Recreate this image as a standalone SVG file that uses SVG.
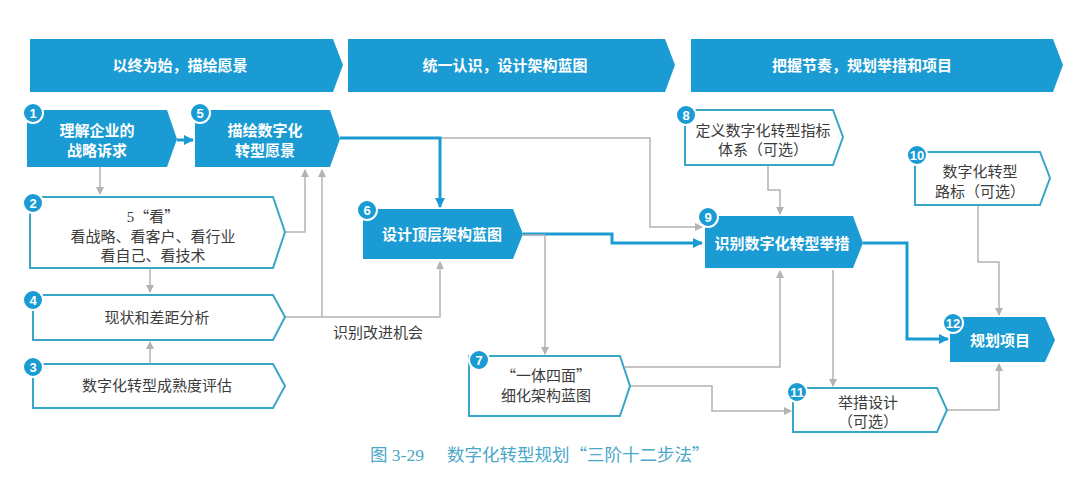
<svg xmlns="http://www.w3.org/2000/svg" width="1080" height="501" viewBox="0 0 1080 501">
<defs>
<style>
.band{fill:#1a9bd3}
.bt{font-family:"Noto Sans CJK SC","Noto Sans",sans-serif;font-size:15px;font-weight:bold;fill:#fff;text-anchor:middle}
.fill{fill:#1a9bd3}
.wt{font-family:"Noto Sans CJK SC","Noto Sans",sans-serif;font-size:15px;font-weight:bold;fill:#fff;text-anchor:middle}
.out{fill:#fff;stroke:#3aa6c7;stroke-width:2}
.gt{font-family:"Noto Sans CJK SC","Noto Sans",sans-serif;font-size:15px;fill:#3c3c3c;text-anchor:middle}
.badge{fill:#1a9bd3;stroke:#fff;stroke-width:2}
.bn{font-family:"Liberation Sans",Arial,sans-serif;font-size:13px;font-weight:bold;fill:#fff;text-anchor:middle}
.g{fill:none;stroke:#b3b3b3;stroke-width:1.5}
.b{fill:none;stroke:#1a9bd3;stroke-width:3}
.cap{font-family:"Liberation Serif","Noto Sans CJK SC",serif;font-size:17.5px;fill:#4aa8c8}
.capc{font-family:"Noto Sans CJK SC",sans-serif;font-size:17.5px;fill:#4aa8c8}
</style>
<marker id="ag" markerWidth="8" markerHeight="8" refX="7" refY="4" orient="auto" markerUnits="userSpaceOnUse"><path d="M0,0 L8,4 L0,8 z" fill="#b3b3b3"/></marker>
<marker id="ab" markerWidth="10" markerHeight="10" refX="9" refY="5" orient="auto" markerUnits="userSpaceOnUse"><path d="M0,0 L10,5 L0,10 z" fill="#1a9bd3"/></marker>
</defs>
<rect width="1080" height="501" fill="#fff"/>

<g id="stage1"><polygon class="band" points="30,39 333,39 343,65 333,92 30,92"/><text class="bt" x="180" y="71">以终为始，描绘愿景</text></g>
<g id="stage2"><polygon class="band" points="348,39 665,39 675,65 665,92 348,92"/><text class="bt" x="505" y="71">统一认识，设计架构蓝图</text></g>
<g id="stage3"><polygon class="band" points="691,39 1053,39 1063,65 1053,92 691,92"/><text class="bt" x="862" y="71">把握节奏，规划举措和项目</text></g>

<g id="connectors">
<path class="b" d="M177,140 H193" marker-end="url(#ab)"/>
<path class="g" d="M100,167 V194" marker-end="url(#ag)"/>
<path class="g" d="M150,268 V292" marker-end="url(#ag)"/>
<path class="g" d="M150,364 V342" marker-end="url(#ag)"/>
<path class="g" d="M285,232 H305 V170" marker-end="url(#ag)"/>
<path class="g" d="M285,317 H440 V262" marker-end="url(#ag)"/>
<path class="g" d="M322,317 V170" marker-end="url(#ag)"/>
<path class="g" d="M440,138 H650 V227 H702" marker-end="url(#ag)"/>
<path class="b" d="M340,138 H440 V207" marker-end="url(#ab)"/>
<path class="b" d="M523,234 H612 V243 H702" marker-end="url(#ab)"/>
<path class="g" d="M523,235 H545 V354" marker-end="url(#ag)"/>
<path class="g" d="M625,367 H780 V271" marker-end="url(#ag)"/>
<path class="g" d="M630,386 H712 V411 H791" marker-end="url(#ag)"/>
<path class="g" d="M768,165 V190 H780 V214" marker-end="url(#ag)"/>
<path class="g" d="M833,270 V386" marker-end="url(#ag)"/>
<path class="g" d="M978,205 V262 H999 V315" marker-end="url(#ag)"/>
<path class="g" d="M947,410 H999 V364" marker-end="url(#ag)"/>
<path class="b" d="M863,243 H907 V339 H948" marker-end="url(#ab)"/>
<text class="gt" x="378" y="338">识别改进机会</text>
</g>

<g id="n1"><polygon class="fill" points="27,110 167,110 177,139 167,167 27,167"/><text class="wt" x="97" y="136">理解企业的</text><text class="wt" x="97" y="156">战略诉求</text><circle class="badge" cx="33" cy="113" r="10"/><text class="bn" x="33" y="118">1</text></g>
<g id="n5"><polygon class="fill" points="195,110 330,110 340,139 330,167 195,167"/><text class="wt" x="265" y="136">描绘数字化</text><text class="wt" x="265" y="156">转型愿景</text><circle class="badge" cx="200" cy="113" r="10"/><text class="bn" x="200" y="118">5</text></g>
<g id="n2"><polygon class="out" points="30,197 273,197 285,232 273,268 30,268"/><text class="gt" x="153" y="222"><tspan font-family="Liberation Serif,serif">5</tspan>“看”</text><text class="gt" x="153" y="242">看战略、看客户、看行业</text><text class="gt" x="153" y="261">看自己、看技术</text><circle class="badge" cx="33" cy="203" r="10"/><text class="bn" x="33" y="208">2</text></g>
<g id="n4"><polygon class="out" points="33,295 273,295 285,317 273,340 33,340"/><text class="gt" x="157" y="323">现状和差距分析</text><circle class="badge" cx="33" cy="300" r="10"/><text class="bn" x="33" y="305">4</text></g>
<g id="n3"><polygon class="out" points="33,364 273,364 285,386 273,408 33,408"/><text class="gt" x="157" y="391">数字化转型成熟度评估</text><circle class="badge" cx="33" cy="367" r="10"/><text class="bn" x="33" y="372">3</text></g>
<g id="n6"><polygon class="fill" points="363,209 513,209 523,234 513,259 363,259"/><text class="wt" x="442" y="240">设计顶层架构蓝图</text><circle class="badge" cx="367" cy="210" r="10"/><text class="bn" x="367" y="215">6</text></g>
<g id="n7"><polygon class="out" points="469,356 620,356 630,386 620,416 469,416"/><text class="gt" x="546" y="381">“一体四面”</text><text class="gt" x="546" y="401">细化架构蓝图</text><circle class="badge" cx="479" cy="360" r="10"/><text class="bn" x="479" y="365">7</text></g>
<g id="n8"><polygon class="out" points="685,110 833,110 843,137 833,165 685,165"/><text class="gt" x="763" y="136">定义数字化转型指标</text><text class="gt" x="763" y="155">体系（可选）</text><circle class="badge" cx="686" cy="115" r="10"/><text class="bn" x="686" y="120">8</text></g>
<g id="n9"><polygon class="fill" points="705,216 853,216 863,243 853,268 705,268"/><text class="wt" x="782" y="249">识别数字化转型举措</text><circle class="badge" cx="708" cy="217" r="10"/><text class="bn" x="708" y="222">9</text></g>
<g id="n10"><polygon class="out" points="915,152 1040,152 1050,178 1040,205 915,205"/><text class="gt" x="980" y="177">数字化转型</text><text class="gt" x="980" y="197">路标（可选）</text><circle class="badge" cx="917" cy="155" r="10"/><text class="bn" x="917" y="160">10</text></g>
<g id="n11"><polygon class="out" points="793,388 937,388 947,410 937,432 793,432"/><text class="gt" x="868" y="408">举措设计</text><text class="gt" x="868" y="427">（可选）</text><circle class="badge" cx="797" cy="392" r="10"/><text class="bn" x="797" y="397">11</text></g>
<g id="n12"><polygon class="fill" points="950,317 1045,317 1055,340 1045,362 950,362"/><text class="wt" x="1000" y="346">规划项目</text><circle class="badge" cx="953" cy="323" r="10"/><text class="bn" x="953" y="328">12</text></g>

<text class="cap" x="370" y="461">图 3-29</text>
<text class="capc" x="447" y="461">数字化转型规划“三阶十二步法”</text>
</svg>
